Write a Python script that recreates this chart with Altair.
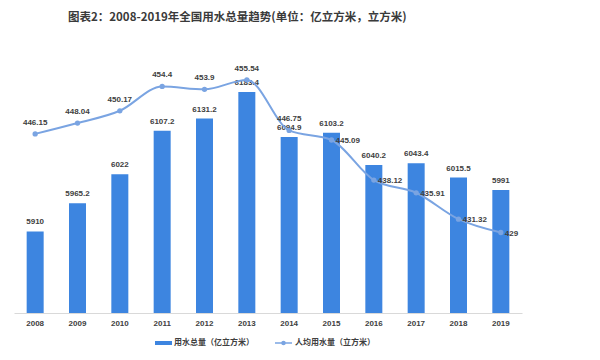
import altair as alt
import pandas as pd

years = ['2008', '2009', '2010', '2011', '2012', '2013', '2014', '2015', '2016', '2017', '2018', '2019']
total_use = [5910, 5965.2, 6022, 6107.2, 6131.2, 6183.4, 6094.9, 6103.2, 6040.2, 6043.4, 6015.5, 5991]
per_capita = [446.15, 448.04, 450.17, 454.4, 453.9, 455.54, 446.75, 445.09, 438.12, 435.91, 431.32, 429]
title_text = '图表2：2008-2019年全国用水总量趋势(单位：亿立方米，立方米)'
series_names = ['用水总量（亿立方米）', '人均用水量（立方米）']

BAR_COLOR = '#3d85e0'
LINE_COLOR = '#7aa4e2'
TEXT_COLOR = '#404040'
NUM_FONT = 'Liberation Sans'
CJK_FONT = 'Noto Sans CJK SC'

df = pd.DataFrame({
    'year': years,
    'total': total_use,
    'pc': per_capita,
    'total_lbl': [f'{v:g}' for v in total_use],
    'pc_lbl': [f'{v:g}' for v in per_capita],
    'yr': [int(y) for y in years],
})

x_enc = alt.X('year:N', title=None, sort=years,
              scale=alt.Scale(paddingInner=0, paddingOuter=0),
              axis=alt.Axis(labelAngle=0, ticks=False, grid=False, domainColor='#d9d9d9',
                            labelFont=NUM_FONT, labelFontSize=8, labelFontWeight='bold',
                            labelColor=TEXT_COLOR, labelPadding=6))

y_bar = alt.Y('total:Q', scale=alt.Scale(domain=[5750, 6250], zero=False, nice=False), axis=None)
y_line = alt.Y('pc:Q', scale=alt.Scale(domain=[415, 459.35], zero=False, nice=False), axis=None)

base = alt.Chart(df)

bars = base.mark_bar(color=BAR_COLOR, size=17, clip=True).encode(x=x_enc, y=y_bar)
bar_text = base.mark_text(baseline='bottom', dy=-5, font=NUM_FONT, fontSize=8,
                          fontWeight='bold', color=TEXT_COLOR).encode(
    x=alt.X('year:N', sort=years), y=y_bar, text='total_lbl:N')
bar_layer = alt.layer(bars, bar_text)

line = base.mark_line(color=LINE_COLOR, strokeWidth=2, interpolate='monotone').encode(
    x=alt.X('year:N', sort=years), y=y_line)
pts = base.mark_point(color=LINE_COLOR, filled=True, size=28, opacity=1).encode(
    x=alt.X('year:N', sort=years), y=y_line)
lbl_above = base.transform_filter('datum.yr <= 2014').mark_text(
    baseline='bottom', dy=-7, font=NUM_FONT, fontSize=8, fontWeight='bold', color=TEXT_COLOR).encode(
    x=alt.X('year:N', sort=years), y=y_line, text='pc_lbl:N')
lbl_right = base.transform_filter('datum.yr > 2014').mark_text(
    align='left', baseline='middle', dx=4, dy=1, font=NUM_FONT, fontSize=8, fontWeight='bold',
    color=TEXT_COLOR).encode(
    x=alt.X('year:N', sort=years), y=y_line, text='pc_lbl:N')
line_layer = alt.layer(line, pts, lbl_above, lbl_right)

tdf = pd.DataFrame({'t': [title_text]})
title = alt.Chart(tdf).mark_text(align='left', baseline='middle', font=CJK_FONT, fontSize=11.5,
                                 fontWeight='bold', color='#3a3a3a').encode(
    text='t:N', x=alt.value(54), y=alt.value(-40))

ldf1 = pd.DataFrame({'n': [series_names[0]]})
ldf2 = pd.DataFrame({'n': [series_names[1]]})
leg_bar = alt.Chart(ldf1).mark_rule(color=BAR_COLOR, strokeWidth=4).encode(
    x=alt.value(141), x2=alt.value(158), y=alt.value(285))
leg_bar_t = alt.Chart(ldf1).mark_text(align='left', baseline='middle', font=CJK_FONT, fontSize=8,
                                      fontWeight='bold', color=TEXT_COLOR).encode(
    text='n:N', x=alt.value(160), y=alt.value(285))
leg_line = alt.Chart(ldf2).mark_rule(color=LINE_COLOR, strokeWidth=1.5).encode(
    x=alt.value(261), x2=alt.value(278), y=alt.value(285))
leg_pt = alt.Chart(ldf2).mark_point(color=LINE_COLOR, filled=True, size=20, opacity=1).encode(
    x=alt.value(269.5), y=alt.value(285))
leg_line_t = alt.Chart(ldf2).mark_text(align='left', baseline='middle', font=CJK_FONT, fontSize=8,
                                       fontWeight='bold', color=TEXT_COLOR).encode(
    text='n:N', x=alt.value(281), y=alt.value(285))

chart = alt.layer(bar_layer, line_layer, title, leg_bar, leg_bar_t, leg_line, leg_pt, leg_line_t).resolve_scale(
    y='independent'
).properties(
    width=508, height=255, autosize='none',
    padding={'left': 6, 'top': 50, 'right': 70, 'bottom': 40},
    background='white'
).configure_view(stroke=None)

chart.save('out.html', embed_options={'renderer': 'svg', 'actions': False})
